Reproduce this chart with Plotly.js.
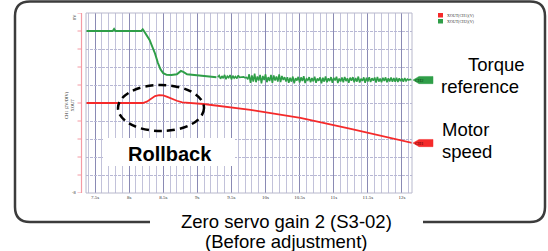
<!DOCTYPE html>
<html><head><meta charset="utf-8">
<script src="https://cdn.plot.ly/plotly-3.0.1.min.js"></script>
<style>html,body{margin:0;padding:0;background:#fff;}#chart{width:548px;height:251px;}</style>
</head><body><div id="chart"></div>
<script>
// ---- data (time in s, value in V) ----
const greenT = [7.37,7.76,7.78,7.80,8.18,8.20,8.22,8.26,8.30,8.34,8.38,8.42,8.46,8.50,8.55,8.62,8.70,8.76,8.80,8.85,8.92,9.00,9.10,9.20,9.28];
const greenV = [6.40,6.40,6.58,6.40,6.40,6.55,6.38,6.00,5.60,5.00,4.40,3.60,3.00,2.65,2.50,2.48,2.55,2.85,2.75,2.55,2.50,2.45,2.40,2.35,2.30];
// noisy part, sampled every 0.02 s from 9.30 s
const greenNoiseStart = 9.30, greenNoiseStep = 0.02;
const greenNoise = [
 2.30,2.45,2.15,2.40,2.20,2.50,2.12,2.38,2.25,2.48,2.10,2.42,2.22,2.36,2.18,2.46,2.28,
 2.30,2.26,2.32,2.24,2.28,
 2.10,2.55,1.80,2.45,1.90,2.60,1.85,2.35,2.00,2.50,1.75,2.40,2.05,2.55,1.85,2.30,1.95,2.50,1.80,2.45,2.00,2.35,1.90,2.55,1.85,2.40,2.05,2.30,1.90,
 2.30,1.80,2.25,1.90,2.35,1.75,2.20,2.00,2.32,1.82,
 2.28,1.95,2.38,1.78,2.15,2.02,2.30,1.85,2.22,1.92,
 2.34,1.80,2.18,1.98,2.28,1.76,2.25,1.90,2.36,1.84,
 2.20,1.95,2.30,1.80,2.24,2.00,2.33,1.78,2.18,1.92,
 2.27,1.85,2.32,1.95,2.20,1.80,2.26,1.98,2.30,1.84,
 2.22,1.90,2.35,1.82,2.16,1.96,2.28,1.80,2.24,1.92,
 2.30,1.86,2.20,1.98,2.26,1.82,2.32,1.90,2.18,1.85,
 2.25,1.95,2.28,1.84,2.20,1.92,2.26,1.88,2.22,1.90,
 2.24,1.86,2.20,1.94,2.18,1.90,2.22,1.96,2.12,2.04,
 2.10,2.04];
const redT = [7.37,8.20,8.26,8.32,8.38,8.44,8.50,8.56,8.62,8.70,8.78,8.88,9.09,9.78,10.51,11.25,11.99,12.16];
const redV = [0,0,0.12,0.40,0.62,0.70,0.68,0.55,0.38,0.20,0.06,0,-0.09,-0.62,-1.33,-2.31,-3.29,-3.56];
const greenEnd = 2.04, redEnd = -3.56;
const seriesNames = ['XOUT(CH1)(V)','XOUT(CH2)(V)'];
const yTicks = [-8,-6.4,-4.8,-3.2,-1.6,0,1.6,3.2,4.8,6.4,8];

// ---- geometry helpers (pixel -> paper) ----
const L=86, R=412, T=13, B=193;
const px = x => (x-L)/(R-L);
const py = y => (B-y)/(B-T);
const P = (x,y) => px(x).toFixed(5)+','+py(y).toFixed(5);

const GREEN='#2f9e48', RED='#f52a2a';

const traces = [
 {x:greenT, y:greenV, type:'scatter', mode:'lines', line:{color:GREEN,width:2}, showlegend:false, hoverinfo:'skip'},
 {x0:greenNoiseStart, dx:greenNoiseStep, y:greenNoise, type:'scatter', mode:'lines', line:{color:GREEN,width:1.6}, showlegend:false, hoverinfo:'skip'},
 {x:redT, y:redV, type:'scatter', mode:'lines', line:{color:RED,width:1.8}, showlegend:false, hoverinfo:'skip'}
];

const shapes = [];
// plot frame
shapes.push({type:'rect',xref:'paper',yref:'paper',x0:0,x1:1,y0:0,y1:1,line:{color:'#b8b8cc',width:1}});
// pink y axis line + ticks
shapes.push({type:'line',xref:'paper',yref:'paper',x0:px(81.5),x1:px(81.5),y0:0,y1:1,line:{color:'#f49aa4',width:1.2}});
yTicks.forEach(v=>shapes.push({type:'line',xref:'paper',yref:'y',x0:px(77.5),x1:px(81.5),y0:v,y1:v,line:{color:'#f49aa4',width:1}}));
// outer rounded frame with gap for the caption
shapes.push({type:'path',xref:'paper',yref:'paper',
 path:`M ${P(150,222)} L ${P(30,222)} Q ${P(15,222)} ${P(15,207)} L ${P(15,16)} Q ${P(15,1.5)} ${P(30,1.5)} L ${P(530,1.5)} Q ${P(545,1.5)} ${P(545,16)} L ${P(545,207)} Q ${P(545,222)} ${P(530,222)} L ${P(423,222)}`,
 line:{color:'#3c3c3c',width:2.5}});
// white box behind "Rollback"
shapes.push({type:'rect',xref:'paper',yref:'paper',x0:px(103),x1:px(235),y0:py(166),y1:py(138),fillcolor:'#ffffff',line:{width:0},layer:'above'});
// dashed ellipse
shapes.push({type:'circle',xref:'paper',yref:'paper',x0:px(118),x1:px(204),y0:py(131),y1:py(85),line:{color:'#000',width:2.5,dash:'8px,5px'},layer:'above'});
// channel tags
function tag(yv,color){
 const c = yv;
 shapes.push({type:'path',xref:'paper',yref:'y',
  path:`M ${px(413).toFixed(5)},${c} L ${px(419).toFixed(5)},${c+0.32} L ${px(433).toFixed(5)},${c+0.32} L ${px(433).toFixed(5)},${c-0.32} L ${px(419).toFixed(5)},${c-0.32} Z`,
  fillcolor:color,line:{color:color,width:0.5}});
}
tag(greenEnd,GREEN); tag(redEnd,RED);
// legend squares
shapes.push({type:'rect',xref:'paper',yref:'paper',x0:px(438),x1:px(443),y0:py(17.5),y1:py(13),fillcolor:RED,line:{width:0}});
shapes.push({type:'rect',xref:'paper',yref:'paper',x0:px(438),x1:px(443),y0:py(23.5),y1:py(19),fillcolor:GREEN,line:{width:0}});

const F='Liberation Sans, Arial, sans-serif';
function ann(text,x,y,size,opts){
 return Object.assign({text:text,xref:'paper',yref:'paper',x:px(x),y:py(y),showarrow:false,
   font:{family:F,size:size,color:'#000'},xanchor:'center',yanchor:'middle'},opts||{});
}
const annotations = [
 ann('Torque',496.5,64,18.5),
 ann('reference',479.5,86,18.5),
 ann('Motor',440,129,18.5,{xanchor:'left'}),
 ann('speed',440,151,18.5,{xanchor:'left'}),
 ann('Zero servo gain 2 (S3-02)',286,221.5,18.5),
 ann('(Before adjustment)',286,241,18.5),
 ann('<b>Rollback</b>',170,153.5,20),
 ann(seriesNames[0],445,15.5,4,{xanchor:'left',font:{family:'Liberation Serif, serif',size:4,color:'#333'}}),
 ann(seriesNames[1],445,21.5,4,{xanchor:'left',font:{family:'Liberation Serif, serif',size:4,color:'#333'}}),
 {text:'CH2',xref:'paper',yref:'y',x:px(426),y:greenEnd,showarrow:false,font:{family:'Liberation Serif, serif',size:4.5,color:'#0a3a14'}},
 {text:'CH1',xref:'paper',yref:'y',x:px(426),y:redEnd,showarrow:false,font:{family:'Liberation Serif, serif',size:4.5,color:'#3a0000'}},
 ann('CH1 (2V/DIV)<br>XOUT',69,105,4.5,{textangle:-90,font:{family:'Liberation Serif, serif',size:4.5,color:'#333'}}),
 ann('8V',74,17,4.5,{textangle:-90,font:{family:'Liberation Serif, serif',size:4.5,color:'#333'}}),
 ann('-8',74,192,4.5,{font:{family:'Liberation Serif, serif',size:4.5,color:'#333'}})
];

const layout = {
 width:548, height:251,
 margin:{l:L, r:548-R, t:T, b:251-B, pad:0},
 paper_bgcolor:'#fff', plot_bgcolor:'#fff',
 showlegend:false,
 xaxis:{range:[7.368,12.147], tick0:7.5, dtick:0.5, ticksuffix:'s', showgrid:true, gridcolor:'#8a8ab4', gridwidth:1,
   minor:{dtick:0.1, showgrid:true, gridcolor:'#c2c2da', gridwidth:1},
   zeroline:false, showline:false, ticks:'', tickfont:{family:'Liberation Serif, serif',size:5,color:'#333'}, fixedrange:true},
 yaxis:{range:[-8,8], tickvals:yTicks, showticklabels:false, showgrid:true, gridcolor:'#b8b8d4', gridwidth:1, griddash:'3px,1px',
   zeroline:false, showline:false, ticks:'', fixedrange:true},
 shapes:shapes, annotations:annotations
};
Plotly.newPlot('chart', traces, layout, {staticPlot:true, displayModeBar:false});
</script></body></html>
